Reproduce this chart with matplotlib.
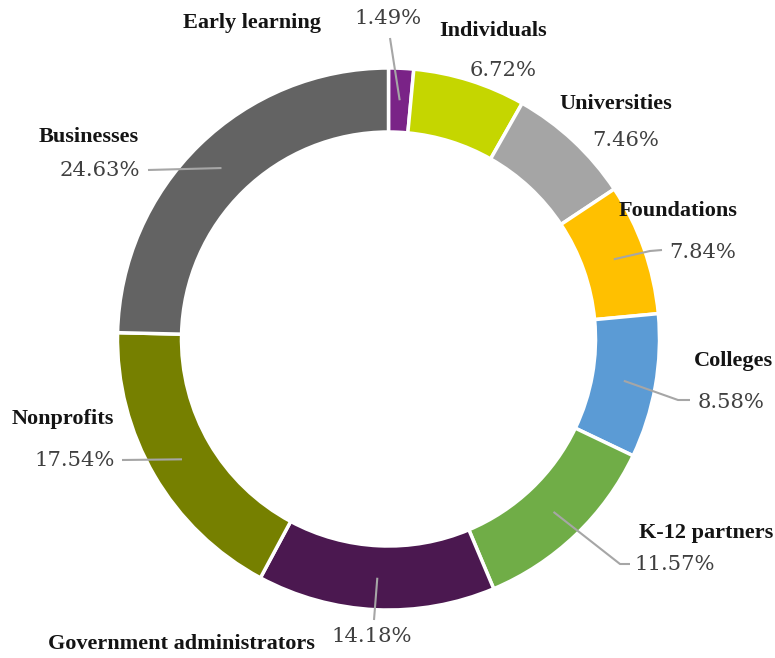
import numpy as np
import matplotlib
matplotlib.use("Agg")
import matplotlib.pyplot as plt

categories = ["Early learning", "Individuals", "Universities", "Foundations", "Colleges",
              "K-12 partners", "Government administrators", "Nonprofits", "Businesses"]
shares = [1.49, 6.72, 7.46, 7.84, 8.58, 11.57, 14.18, 17.54, 24.63]
colors = ["#7A2387", "#C5D600", "#A5A5A5", "#FFC000", "#5B9BD5",
          "#70AD47", "#4B1850", "#768000", "#636363"]

W, H = 775, 658
CX, CY = 388.5, 339          # centre in image pixels (y down)
R_OUT, R_IN = 271, 207

# layout (image pixel coords, y down): name position, pct position, leader path (elbow points) or None
layout = {
    "Early learning": ((252, 23), (388, 18), [(390, 38)]),
    "Individuals": ((493, 31), (503, 70), None),
    "Universities": ((616, 104), (626, 140), None),
    "Foundations": ((678, 211), (703, 252), [(650, 251), (662, 250)]),
    "Colleges": ((733, 361), (731, 402), [(678, 400), (690, 400)]),
    "K-12 partners": ((706, 533), (675, 565), [(620, 564), (630, 564)]),
    "Government administrators": ((181, 644), (372, 637), [(374, 620)]),
    "Nonprofits": ((63, 419), (75, 460), [(122, 460)]),
    "Businesses": ((89, 137), (100, 170), [(148, 170)]),
}

fig = plt.figure(figsize=(W / 100, H / 100), dpi=100)
ax = fig.add_axes([0, 0, 1, 1])

def fy(y):
    return H - y

wedges, _ = ax.pie(shares, colors=colors, startangle=90, counterclock=False,
                   center=(CX, fy(CY)), radius=R_OUT, frame=True,
                   wedgeprops=dict(width=R_OUT - R_IN, edgecolor="white", linewidth=2.5))
ax.set_xlim(0, W)
ax.set_ylim(0, H)
ax.set_aspect("equal")
ax.axis("off")

name_font = dict(family=["Liberation Serif", "DejaVu Serif"], fontsize=16.0, weight="bold", color="#141414")
pct_font = dict(family=["DejaVu Serif"], fontsize=15.2, color="#404040")

r_mid = (R_OUT + R_IN) / 2
for w, cat, val in zip(wedges, categories, shares):
    (nx, ny), (px, py), path = layout[cat]
    ax.text(nx, fy(ny), cat, ha="center", va="center", **name_font)
    ax.text(px, fy(py), f"{val:.2f}%", ha="center", va="center", **pct_font)
    if path:
        ang = np.deg2rad((w.theta1 + w.theta2) / 2)
        sx = CX + r_mid * np.cos(ang)
        sy = fy(CY) + r_mid * np.sin(ang)
        xs = [sx] + [p[0] for p in path]
        ys = [sy] + [fy(p[1]) for p in path]
        ax.plot(xs, ys, color="#A6A6A6", lw=1.5, solid_capstyle="butt", zorder=5)

fig.savefig("out.png", dpi=100, facecolor="white")
